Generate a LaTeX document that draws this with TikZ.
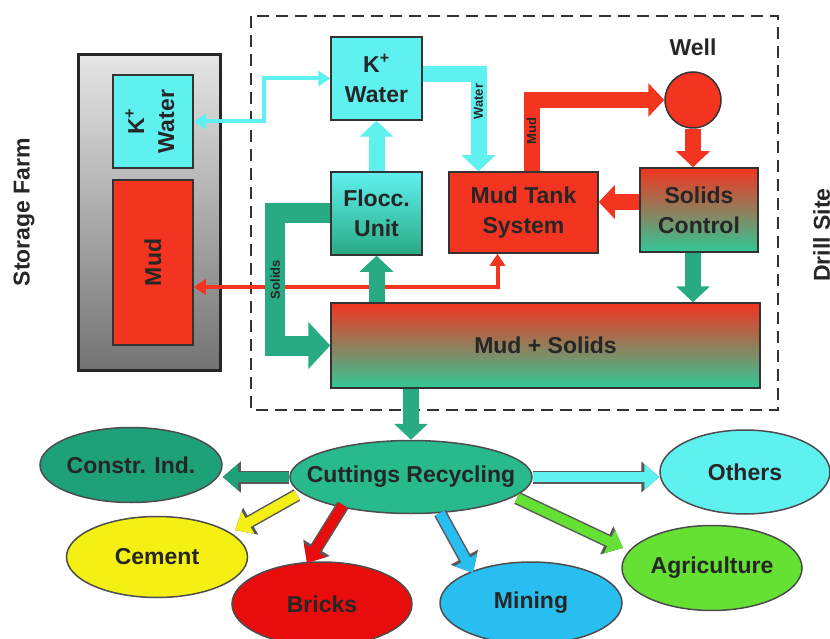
\documentclass[tikz,border=0pt]{standalone}
\usepackage{fontspec}
\setmainfont{Liberation Sans}
\usepackage{tikz}
\usetikzlibrary{positioning}
\usetikzlibrary{shapes.geometric}
\usetikzlibrary{arrows.meta}

\definecolor{mudred}{RGB}{242,52,32}
\definecolor{watercyan}{RGB}{95,240,240}
\definecolor{solidteal}{RGB}{40,170,130}
\definecolor{mixteal}{RGB}{48,200,150}
\definecolor{cutteal}{RGB}{40,185,140}
\definecolor{constrteal}{RGB}{30,160,120}
\definecolor{cementyel}{RGB}{245,240,20}
\definecolor{brickred}{RGB}{232,12,12}
\definecolor{miningblue}{RGB}{40,190,240}
\definecolor{agrigreen}{RGB}{100,225,50}

\newcommand{\vtext}[1]{\rotatebox{90}{\begin{tabular}{@{}c@{}}#1\end{tabular}}}

\tikzset{
    lbl/.style = {font=\fontsize{23}{30}\selectfont\bfseries, text=black!85},
    vessel/.style = {lbl, rectangle, draw=black!80, line width=1.5pt, inner sep=0pt, align=center},
    pipe/.style = {line width=16pt, draw=#1, -{Triangle[length=16pt, width=33pt]}},
    tube/.style = {line width=4pt, draw=#1, {Triangle[length=12pt, width=15pt]}-{Triangle[length=12pt, width=15pt]}},
    outlet/.style = {lbl, ellipse, draw=black!70, line width=1.5pt, inner xsep=-40pt, inner ysep=-12pt, fill=#1},
    recy/.style = {line width=10pt, draw=#1, -{Triangle[length=15pt, width=25pt]},
        preaction={draw=black!65, line width=13pt, -{Triangle[length=18pt, width=30pt]}}},
    tag/.style = {font=\fontsize{13}{13}\selectfont\bfseries, text=black!85, rotate=90, inner sep=0pt}
}

\begin{document}
\begin{tikzpicture}[x=1pt, y=-1pt]
    \useasboundingbox (0,0) rectangle (830,639);
    % storage farm %
    \node[rectangle, draw=black!85, line width=3pt, top color=white!90!black, bottom color=black!55,
        minimum width=142pt, minimum height=315pt] (farm) at (149.5,212.5) {};
    \node[vessel, fill=watercyan, minimum width=80pt, minimum height=93pt] (skw) at (153,121.5) {\vtext{K\textsuperscript{+}\\Water}};
    \node[vessel, fill=mudred, minimum width=80pt, minimum height=165pt] (smud) at (153,262.5) {\rotatebox{90}{Mud}};
    \node[lbl, rotate=90] (farmlbl) at (24,212) {Storage Farm};
    % drill site %
    \draw[dashed, line width=2pt, black!80, dash pattern=on 12pt off 7pt] (251,16) rectangle (778,410);
    \node[lbl, rotate=90, anchor=north, inner sep=0pt] (drill) at (813,235) {Drill Site};
    \node[vessel, fill=watercyan, minimum width=91pt, minimum height=83pt] (kw) at (376.5,78.5) {K\textsuperscript{+}\\Water};
    \node[vessel, top color=watercyan, bottom color=solidteal, minimum width=91pt, minimum height=83pt] (flocc) at (376.5,213.5) {Flocc.\\Unit};
    \node[vessel, fill=mudred, minimum width=149pt, minimum height=81pt] (tank) at (523.5,212.5) {Mud Tank\\System};
    \node[vessel, top color=mudred, bottom color=mixteal, minimum width=118pt, minimum height=84pt] (sctl) at (699,210) {Solids\\Control};
    \node[circle, draw=black!80, line width=1.5pt, fill=mudred, minimum size=56pt, inner sep=0pt] (well) at (693,100) {};
    \node[lbl, above = 15pt of well, inner sep=0pt] (welllbl) {Well};
    \node[vessel, top color=mudred, bottom color=mixteal, minimum width=429pt, minimum height=85pt] (mix) at (545.5,345.5) {Mud + Solids};
    % recycling %
    \node[outlet=cutteal, minimum width=242pt, minimum height=73pt] (cut) at (411,477) {Cuttings Recycling};
    \node[outlet=constrteal, minimum width=182pt, minimum height=75pt] (constr) at (131,465) {Constr. Ind.};
    \node[outlet=cementyel, minimum width=181pt, minimum height=81pt] (cement) at (157,557) {Cement};
    \node[outlet=brickred, minimum width=180pt, minimum height=84pt] (bricks) at (322,604) {Bricks};
    \node[outlet=miningblue, minimum width=182pt, minimum height=82pt] (mining) at (531,603) {Mining};
    \node[outlet=agrigreen, minimum width=180pt, minimum height=85pt] (agri) at (712,568) {Agriculture};
    \node[outlet=watercyan, minimum width=170pt, minimum height=84pt] (others) at (745,472) {Others};
    % edges %
    \draw[tube=watercyan] (skw.east) -- ++(70,0) |- (kw.west);
    \draw[tube=mudred] ([yshift=-24.5pt]smud.east) -| ([xshift=-26pt]tank.south);
    \draw[pipe=watercyan] (flocc.north) -- (kw.south);
    \draw[pipe=watercyan] ([yshift=4pt]kw.east) -| ([xshift=-45pt]tank.north) node[tag, pos=0.64] {Water};
    \draw[pipe=mudred] ([xshift=8pt]tank.north) |- (well.west) node[tag, pos=0.28] {Mud};
    \draw[pipe=mudred] (well.south) -- (well.south |- sctl.north);
    \draw[pipe=mudred] ([yshift=8pt]sctl.west) -- ([yshift=8pt]sctl.west -| tank.east);
    \draw[pipe=solidteal] (sctl.south -| well.south) -- (well.south |- mix.north);
    \draw[pipe=solidteal] (mix.north -| flocc.south) -- (flocc.south);
    \draw[pipe=solidteal, line width=20pt, -{Triangle[length=22pt, width=46pt]}] (flocc.west) -- ++(-55,0) |- (mix.west) node[tag, pos=0.25] {Solids};
    \draw[pipe=solidteal] (mix.south -| cut.north) -- (cut.north);
    \draw[recy=constrteal] (cut.west) -- (cut.west -| constr.east);
    \draw[recy=cementyel] ([xshift=-114pt, yshift=-18pt]cut.center) -- ([xshift=78pt, yshift=27pt]cement.center);
    \draw[recy=brickred] ([xshift=-68pt, yshift=-28pt]cut.center) -- ([xshift=-15pt, yshift=41pt]bricks.center);
    \draw[recy=miningblue] ([xshift=29pt, yshift=-36pt]cut.center) -- ([xshift=-58pt, yshift=30pt]mining.center);
    \draw[recy=agrigreen] ([xshift=106pt, yshift=-21pt]cut.center) -- ([xshift=-89pt, yshift=20pt]agri.center);
    \draw[recy=watercyan] (cut.east) -- (cut.east -| others.west);
\end{tikzpicture}
\end{document}
